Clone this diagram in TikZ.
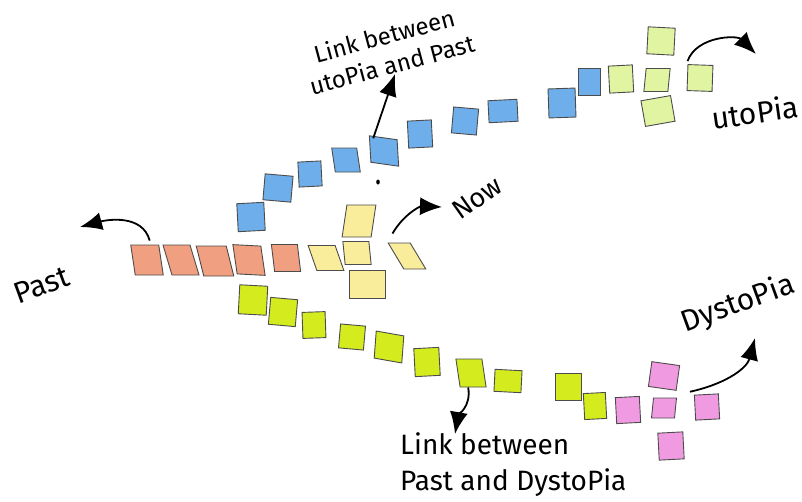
\documentclass[tikz,border=0pt]{standalone}
\usepackage{fontspec}
\setmainfont{Fira Sans}
\usepackage{tikz}
\usetikzlibrary{arrows.meta}

\definecolor{pastc}{RGB}{240,160,128}
\definecolor{nowc}{RGB}{249,236,155}
\definecolor{utopc}{RGB}{110,175,235}
\definecolor{utopend}{RGB}{224,244,162}
\definecolor{dysc}{RGB}{212,236,30}
\definecolor{dysend}{RGB}{240,155,225}

\tikzset{
  postit/.style={draw=black!70,line width=0.9pt,inner sep=0pt},
  arrline/.style={line width=1.8pt,black,arrows={-Latex[length=22pt,width=18pt]}},
  hand/.style={font=\fontsize{#1}{#1}\selectfont,inner sep=1pt}
}

\begin{document}
\begin{tikzpicture}[x=1pt,y=1pt]
  \path[use as bounding box] (0,-501) rectangle (802,0);
  % the past row
  \foreach \x/\y/\w/\h/\r/\s [count=\i] in {147/260/28/30/0/-0.15,181/260/27/30/0/-0.3,
      215/261/30/30/0/-0.25,249/260/28/29/-3/-0.2,286/258/26/27/0/-0.12}
    \node[postit,fill=pastc,minimum width=\w,minimum height=\h,rotate=\r,xslant=\s] (past\i) at (\x,-\y) {};
  % now, the cross
  \foreach \x/\y/\w/\h/\r/\s [count=\i] in {326/258/27/25/0/-0.35,357/253/26/23/0/-0.1,
      359/221/29/32/0/0.15,367/284/36/28/0/0,407/256/22/26/0/-0.6}
    \node[postit,fill=nowc,minimum width=\w,minimum height=\h,rotate=\r,xslant=\s] (now\i) at (\x,-\y) {};
  % way up to utopia
  \foreach \x/\y/\w/\h/\r/\s [count=\i] in {251/217/27/28/3/0,278/188/28/26/-5/0,310/174/23/25/3/0,
      346/160/25/24/0/-0.15,384/151/28/26/-8/-0.2,420/134/24/27/3/0,465/121/25/26/-5/0,
      503/111/29/22/3/0,562/103/27/29/2/0,589/82/22/27/0/0}
    \node[postit,fill=utopc,minimum width=\w,minimum height=\h,rotate=\r,xslant=\s] (up\i) at (\x,-\y) {};
  \foreach \x/\y/\w/\h/\r/\s [count=\i] in {621/79/24/27/3/0,657/80/24/23/0/0.1,661/41/27/27/-3/0,
      658/111/30/26/10/0,700/78/25/26/-2/0}
    \node[postit,fill=utopend,minimum width=\w,minimum height=\h,rotate=\r,xslant=\s] (utop\i) at (\x,-\y) {};
  % way down to dystopia
  \foreach \x/\y/\w/\h/\r/\s [count=\i] in {253/300/28/29/-3/0,283/312/27/27/-5/0,314/325/23/26/2/0,
      352/337/25/24/-5/0,389/347/28/27/-10/-0.1,427/362/25/28/3/0,471/373/26/28/0/-0.15,
      508/381/27/22/-3/0,568/387/26/27/0/0,595/406/22/26/3/0}
    \node[postit,fill=dysc,minimum width=\w,minimum height=\h,rotate=\r,xslant=\s] (down\i) at (\x,-\y) {};
  \foreach \x/\y/\w/\h/\r/\s [count=\i] in {628/410/24/26/3/0,664/408/23/20/0/0.1,664/376/28/25/-8/0,
      671/446/25/27/3/0,707/407/24/25/3/0}
    \node[postit,fill=dysend,minimum width=\w,minimum height=\h,rotate=\r,xslant=\s] (dys\i) at (\x,-\y) {};
  \fill (378,-182) ellipse (1.8 and 2.5);
  % labels
  \node[hand=30,rotate=20] (pastLabel) at (42,-285) {Past};
  \node[hand=27,rotate=35] (nowLabel) at (477,-198) {Now};
  \node[hand=30,rotate=8] (utopLabel) at (755,-112) {utoPia};
  \node[hand=30,rotate=20] (dysLabel) at (738,-304) {DystoPia};
  \node[font=\fontsize{24}{30}\selectfont,rotate=15,align=center] (upLink) at (388,-50) {Link between\\utoPia and Past};
  \node[font=\fontsize{28}{36}\selectfont,anchor=north west,align=left,inner sep=0pt] (downLink) at (400,-432) {Link between\\Past and DystoPia};
  % arrow tips
  \coordinate (pastTip) at (80,-227);
  \coordinate (nowTip) at (442,-207);
  \coordinate (utopTip) at (756,-54);
  \coordinate (dysTip) at (755,-338);
  \coordinate (upTip) at (395,-74);
  \coordinate (downTip) at (455,-434);
  % the arrows
  \draw[arrline] ([xshift=5pt,yshift=4pt]past1.north) to[out=105,in=15] (pastTip);
  \draw[arrline] ([xshift=5pt,yshift=9pt]now5.north west) to[out=60,in=178] (nowTip);
  \draw[arrline] ([yshift=3pt]utop5.north west) to[out=70,in=135] (utopTip);
  \draw[arrline] ([xshift=-4pt,yshift=3pt]dys5.north west) to[out=12,in=-105] (dysTip);
  \draw[arrline] ([xshift=-10pt,yshift=-1pt]up5.north) -- (upTip);
  \draw[arrline] ([xshift=-5pt]down7.south) to[out=-80,in=80] (downTip);
\end{tikzpicture}
\end{document}
